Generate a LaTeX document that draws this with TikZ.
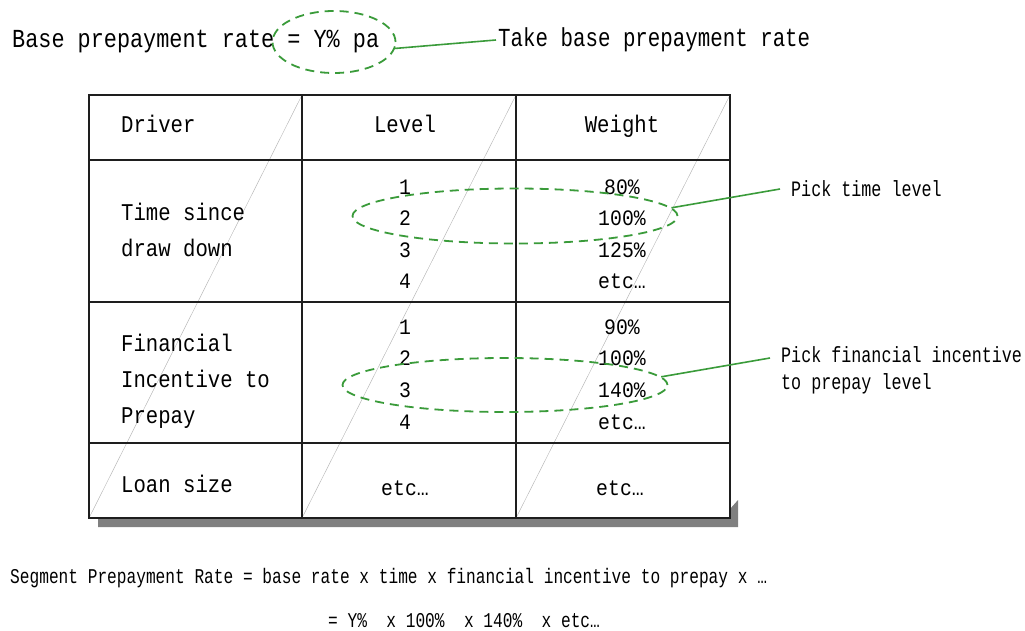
\documentclass[tikz,border=0pt]{standalone}
\usepackage{fontspec}
\setmainfont{Liberation Mono}
\newfontfamily\monoTop[FakeStretch=0.84]{Liberation Mono}
\newfontfamily\monoTake[FakeStretch=0.8]{Liberation Mono}
\newfontfamily\monoCell[FakeStretch=0.86]{Liberation Mono}
\newfontfamily\monoNum[FakeStretch=0.9]{Liberation Mono}
\newfontfamily\monoC[FakeStretch=0.76]{Liberation Mono}
\newfontfamily\monoB[FakeStretch=0.77]{Liberation Mono}
\usetikzlibrary{shapes.geometric}
\definecolor{pickgreen}{RGB}{58,155,58}
\definecolor{tblline}{RGB}{30,30,30}
\definecolor{shadowgray}{RGB}{128,128,128}
\tikzset{
  toptext/.style={font=\monoTop\fontsize{26}{30}\selectfont, inner sep=0pt},
  cell/.style={font=\monoCell\fontsize{24}{28}\selectfont, inner sep=0pt, text height=0.62em, text depth=0pt, yshift=-4pt},
  num/.style={font=\monoNum\fontsize{22}{26}\selectfont, inner sep=0pt, text height=0.62em, text depth=0pt, yshift=-4pt},
  sidelabel/.style={font=\monoC\fontsize{22}{27}\selectfont, inner sep=0pt, align=left},
  bottomtext/.style={font=\monoB\fontsize{21}{25}\selectfont, inner sep=0pt},
  pick/.style={ellipse, draw=pickgreen, dash pattern=on 9pt off 6pt, line width=1.8pt, inner sep=0pt},
  lead/.style={draw=pickgreen, line width=1.6pt},
  rule/.style={draw=tblline, line width=1.8pt},
  diag/.style={draw=black!30, line width=0.4pt}
}
\begin{document}
\begin{tikzpicture}[x=1pt,y=-1pt]
\useasboundingbox (0,0) rectangle (1025,631);

% top line
\node[toptext, anchor=west] (base) at (12,42) {Base prepayment rate = Y\% pa};
\node[pick, minimum width=123pt, minimum height=62pt] (e0) at (334,42) {};
\node[toptext, font=\monoTake\fontsize{26}{30}\selectfont, anchor=west, inner xsep=2pt] (t0) at (496,40) {Take base prepayment rate};
\draw[lead] (e0.-6) -- (t0.west);

% table shadow
\fill[shadowgray] (98,518) -- (730,518) -- (730,509) -- (738,500) -- (738,527) -- (98,527) -- cycle;
% table body
\fill[white] (89,95) rectangle (730,518);
\draw[diag] (89,518) -- (302,95);
\draw[diag] (302,518) -- (516,95);
\draw[diag] (516,518) -- (730,95);
\draw[rule] (89,95) rectangle (730,518);
\draw[rule] (89,160) -- (730,160);
\draw[rule] (89,302) -- (730,302);
\draw[rule] (89,443) -- (730,443);
\draw[rule] (302,95) -- (302,518);
\draw[rule] (516,95) -- (516,518);

% header
\node[cell, anchor=west] (hdriver) at (121,125) {Driver};
\node[cell] (hlevel) at (405,125) {Level};
\node[cell] (hweight) at (622,125) {Weight};

% row 1
\node[cell, anchor=west] (d1a) at (121,213) {Time since};
\node[cell, anchor=west] (d1b) at (121,249) {draw down};
\node[num] (l11) at (405,187) {1};
\node[num] (l12) at (405,218) {2};
\node[num] (l13) at (405,250) {3};
\node[num] (l14) at (405,281) {4};
\node[num] (w11) at (622,187) {80\%};
\node[num] (w12) at (622,218) {100\%};
\node[num] (w13) at (622,250) {125\%};
\node[num] (w14) at (622,281) {etc…};

% row 2
\node[cell, anchor=west] (d2a) at (121,344) {Financial};
\node[cell, anchor=west] (d2b) at (121,380) {Incentive to};
\node[cell, anchor=west] (d2c) at (121,416) {Prepay};
\node[num] (l21) at (405,327) {1};
\node[num] (l22) at (405,358) {2};
\node[num] (l23) at (405,390) {3};
\node[num] (l24) at (405,422) {4};
\node[num] (w21) at (622,327) {90\%};
\node[num] (w22) at (622,358) {100\%};
\node[num] (w23) at (622,390) {140\%};
\node[num] (w24) at (622,422) {etc…};

% row 3
\node[cell, anchor=west] (d3) at (121,485) {Loan size};
\node[num] (l3) at (405,488) {etc…};
\node[num] (w3) at (620,488) {etc…};

% pick ellipses and labels
\node[pick, minimum width=325pt, minimum height=55pt] (e1) at (515,216) {};
\node[sidelabel, anchor=west, inner xsep=11pt] (p1) at (780,189) {Pick time level};
\draw[lead] (e1.3) -- (p1.west);

\node[pick, minimum width=325pt, minimum height=54pt] (e2) at (505,385) {};
\node[sidelabel, anchor=north west, inner xsep=11pt] (p2) at (770,346) {Pick financial incentive\\to prepay level};
\draw[lead] (e2.3) -- (p2.west |- 0,358);

% bottom formula
\node[bottomtext, anchor=west] (f1) at (10,578) {Segment Prepayment Rate = base rate x time x financial incentive to prepay x …};
\node[bottomtext, anchor=west] (f2) at (328,621) {= Y\%\ \ x 100\%\ \ x 140\%\ \ x etc…};
\end{tikzpicture}
\end{document}
